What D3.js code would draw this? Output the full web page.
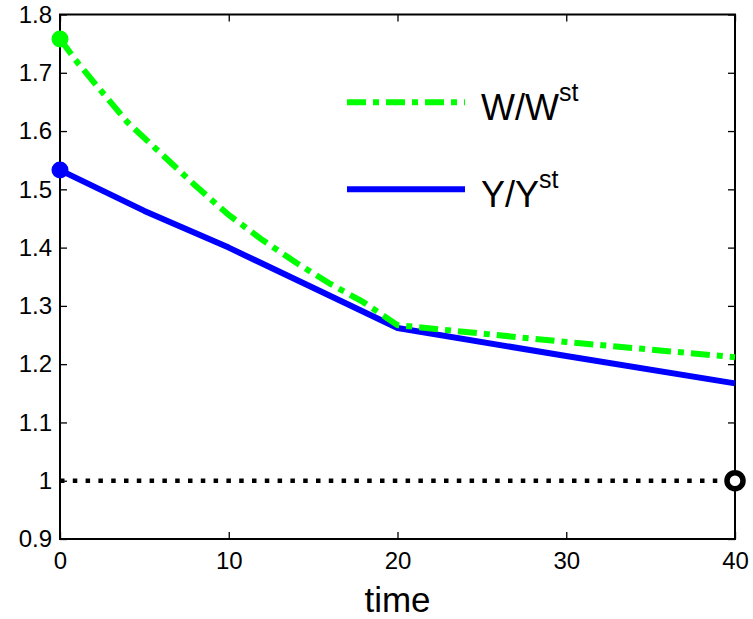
<!DOCTYPE html>
<html>
<head>
<meta charset="utf-8">
<script src="https://cdn.jsdelivr.net/npm/d3@7"></script>
<style>
  body { margin: 0; background: #fff; }
  svg text { font-family: "Liberation Sans", Arial, sans-serif; fill: #000; }
</style>
</head>
<body>
<div id="chart"></div>
<script>
// values
var timeW = [0, 1, 2, 4, 6, 8, 10, 12, 14, 16, 18, 20, 30, 40];
var valW  = [1.758, 1.719, 1.684, 1.615, 1.561, 1.507, 1.456, 1.413, 1.374, 1.338, 1.306, 1.267, 1.238, 1.212];
var timeY = [0, 5, 10, 15, 20, 30, 40];
var valY  = [1.533, 1.463, 1.400, 1.331, 1.262, 1.214, 1.167];
var steadyT = [0, 40];
var steadyV = [1, 1];
var xTicks = [0, 10, 20, 30, 40];
var yTicks = [0.9, 1, 1.1, 1.2, 1.3, 1.4, 1.5, 1.6, 1.7, 1.8];

var margin = {top: 14.5, right: 18, bottom: 80, left: 60},
    width = 753 - margin.left - margin.right,
    height = 619 - margin.top - margin.bottom;

var svg = d3.select("#chart")
  .append("svg")
    .attr("width", 753)
    .attr("height", 619)
  .append("g")
    .attr("transform", "translate(" + margin.left + "," + margin.top + ")");

var x = d3.scaleLinear().domain([0, 40]).range([0, width]);
var y = d3.scaleLinear().domain([0.9, 1.8]).range([height, 0]);

// axes: ticks inward, mirrored on top and right
function styleAxis(g) {
  g.attr("font-family", null).attr("font-size", null);
  g.select(".domain").remove();
  g.selectAll(".tick line").attr("stroke", "#000").attr("stroke-width", 1.3);
  g.selectAll("text").style("font-size", "24px");
}

svg.append("g")
  .attr("transform", "translate(0," + height + ")")
  .call(d3.axisBottom(x).tickValues(xTicks).tickSize(-7).tickPadding(13).tickFormat(d3.format("d")))
  .call(styleAxis);

svg.append("g")
  .call(d3.axisLeft(y).tickValues(yTicks).tickSize(-7).tickPadding(8).tickFormat(function(d) { return d === 1 ? "1" : d3.format(".1f")(d); }))
  .call(styleAxis);

svg.append("g")
  .call(d3.axisTop(x).tickValues(xTicks).tickSize(-7).tickFormat(""))
  .call(styleAxis);

svg.append("g")
  .attr("transform", "translate(" + width + ",0)")
  .call(d3.axisRight(y).tickValues(yTicks).tickSize(-7).tickFormat(""))
  .call(styleAxis);

svg.append("rect")
  .attr("width", width)
  .attr("height", height)
  .attr("fill", "none")
  .attr("stroke", "#000")
  .attr("stroke-width", 2);

var line = d3.line()
  .x(function(d) { return x(d[0]); })
  .y(function(d) { return y(d[1]); });

// steady state reference
svg.append("path")
  .datum(d3.zip(steadyT, steadyV))
  .attr("fill", "none")
  .attr("stroke", "#000")
  .attr("stroke-width", 4.5)
  .attr("stroke-dasharray", "4.5 8.3")
  .attr("d", line);

svg.append("circle")
  .attr("cx", x(40))
  .attr("cy", y(1))
  .attr("r", 8)
  .attr("fill", "#fff")
  .attr("stroke", "#000")
  .attr("stroke-width", 5.5);

// Y/Yst
svg.append("path")
  .datum(d3.zip(timeY, valY))
  .attr("fill", "none")
  .attr("stroke", "#0000ff")
  .attr("stroke-width", 6)
  .attr("stroke-linejoin", "round")
  .attr("d", line);

svg.append("circle")
  .attr("cx", x(timeY[0]))
  .attr("cy", y(valY[0]))
  .attr("r", 8.5)
  .attr("fill", "#0000ff");

// W/Wst
svg.append("path")
  .datum(d3.zip(timeW, valW))
  .attr("fill", "none")
  .attr("stroke", "#00ff00")
  .attr("stroke-width", 6)
  .attr("stroke-dasharray", "19 7 6 7")
  .attr("d", line);

svg.append("circle")
  .attr("cx", x(timeW[0]))
  .attr("cy", y(valW[0]))
  .attr("r", 8.5)
  .attr("fill", "#00ff00");

// x label
svg.append("text")
  .attr("x", x(20))
  .attr("y", 611.5 - margin.top)
  .attr("text-anchor", "middle")
  .style("font-size", "35px")
  .text("time");

// legend
var legend = [
  {name: "W", color: "#00ff00", dash: "19 7 6 7", y: 102.3},
  {name: "Y", color: "#0000ff", dash: null, y: 189.3}
];

var lg = svg.append("g").attr("transform", "translate(" + (-margin.left) + "," + (-margin.top) + ")");
legend.forEach(function(d) {
  lg.append("line")
    .attr("x1", 347).attr("x2", 465)
    .attr("y1", d.y).attr("y2", d.y)
    .attr("stroke", d.color)
    .attr("stroke-width", 6)
    .attr("stroke-dasharray", d.dash);
  var t = lg.append("text")
    .attr("x", 481)
    .attr("y", d.y + 17.6)
    .style("font-size", "36px");
  t.append("tspan").text(d.name + "/" + d.name);
  t.append("tspan").attr("dy", -18.5).style("font-size", "25px").text("st");
});
</script>
</body>
</html>
